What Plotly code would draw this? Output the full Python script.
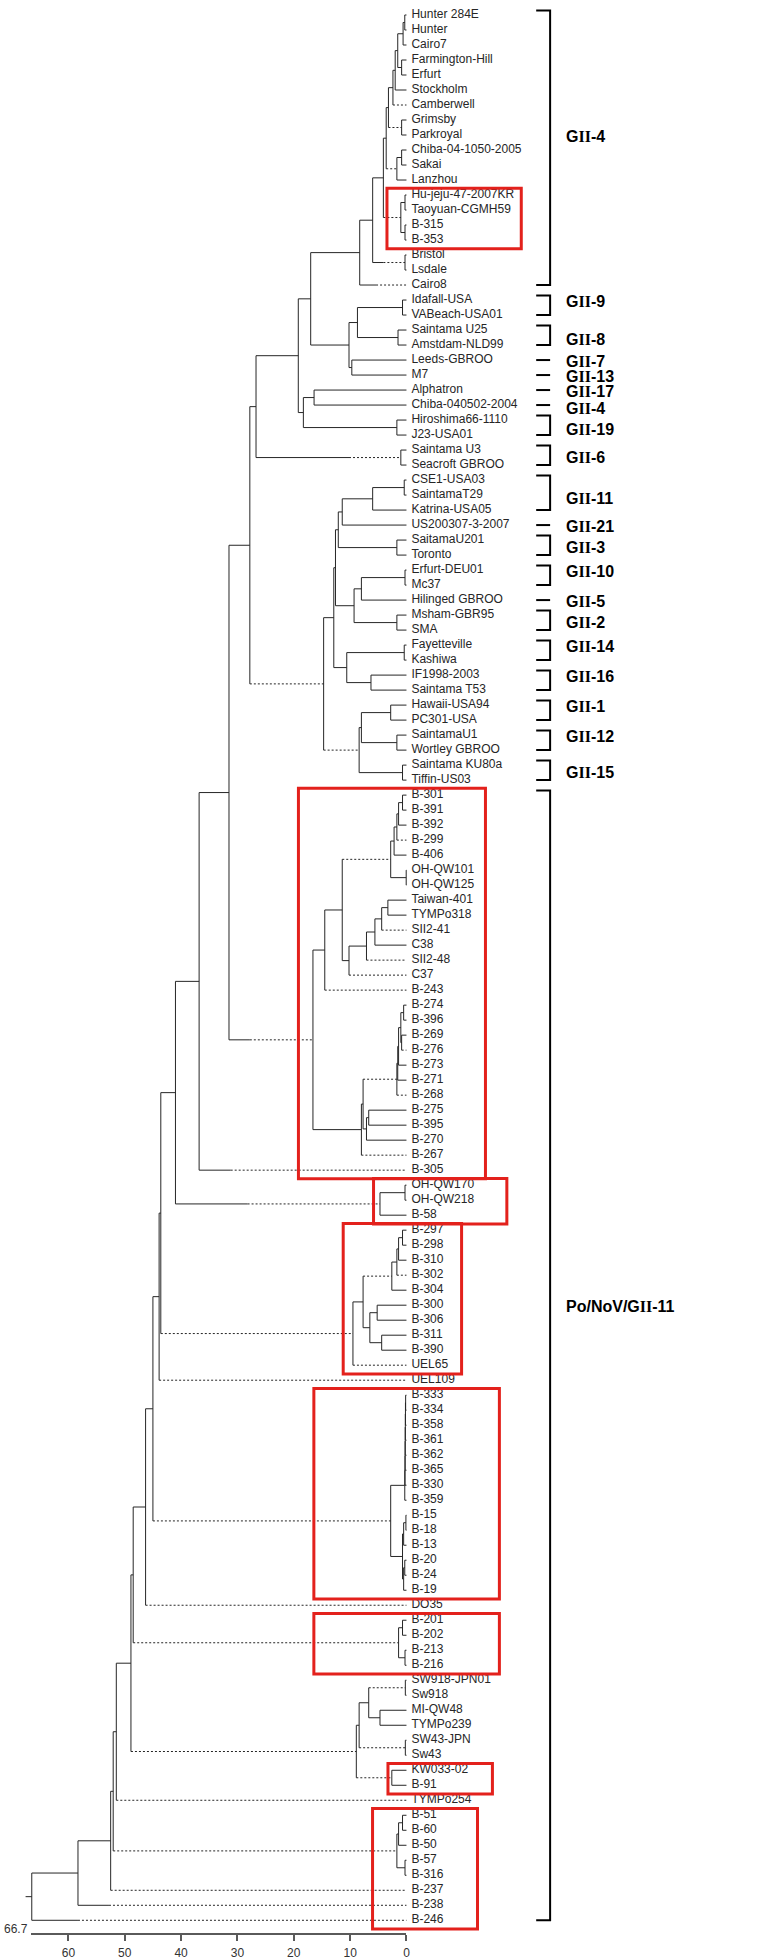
import plotly.graph_objects as go

# ---------------- DATA ----------------
leaf_names = [
    "Hunter 284E", "Hunter", "Cairo7", "Farmington-Hill", "Erfurt", "Stockholm", "Camberwell",
    "Grimsby", "Parkroyal", "Chiba-04-1050-2005", "Sakai", "Lanzhou", "Hu-jeju-47-2007KR",
    "Taoyuan-CGMH59", "B-315", "B-353", "Bristol", "Lsdale", "Cairo8", "Idafall-USA",
    "VABeach-USA01", "Saintama U25", "Amstdam-NLD99", "Leeds-GBROO", "M7", "Alphatron",
    "Chiba-040502-2004", "Hiroshima66-1110", "J23-USA01", "Saintama U3", "Seacroft GBROO",
    "CSE1-USA03", "SaintamaT29", "Katrina-USA05", "US200307-3-2007", "SaitamaU201", "Toronto",
    "Erfurt-DEU01", "Mc37", "Hilinged GBROO", "Msham-GBR95", "SMA", "Fayetteville", "Kashiwa",
    "IF1998-2003", "Saintama T53", "Hawaii-USA94", "PC301-USA", "SaintamaU1", "Wortley GBROO",
    "Saintama KU80a", "Tiffin-US03", "B-301", "B-391", "B-392", "B-299", "B-406", "OH-QW101",
    "OH-QW125", "Taiwan-401", "TYMPo318", "SII2-41", "C38", "SII2-48", "C37", "B-243", "B-274",
    "B-396", "B-269", "B-276", "B-273", "B-271", "B-268", "B-275", "B-395", "B-270", "B-267",
    "B-305", "OH-QW170", "OH-QW218", "B-58", "B-297", "B-298", "B-310", "B-302", "B-304",
    "B-300", "B-306", "B-311", "B-390", "UEL65", "UEL109", "B-333", "B-334", "B-358", "B-361",
    "B-362", "B-365", "B-330", "B-359", "B-15", "B-18", "B-13", "B-20", "B-24", "B-19", "DO35",
    "B-201", "B-202", "B-213", "B-216", "SW918-JPN01", "Sw918", "MI-QW48", "TYMPo239",
    "SW43-JPN", "Sw43", "KW033-02", "B-91", "TYMPo254", "B-51", "B-60", "B-50", "B-57", "B-316",
    "B-237", "B-238", "B-246",
]

# merges m1..m127 (left child, right child, height in distance units)
merge_left = [
    "Hunter 284E", "m1", "Farmington-Hill", "m2", "m4", "m5", "Grimsby", "m6", "Chiba-04-1050-2005", "m9",
    "m8", "Hu-jeju-47-2007KR", "B-315", "m12", "m11", "Bristol", "m15", "m17", "Idafall-USA", "Saintama U25",
    "m19", "Leeds-GBROO", "m21", "m18", "Alphatron", "Hiroshima66-1110", "m25", "m24", "Saintama U3", "m28",
    "CSE1-USA03", "m31", "m32", "SaitamaU201", "m33", "Erfurt-DEU01", "m36", "Msham-GBR95", "m37", "m35",
    "Fayetteville", "IF1998-2003", "m41", "m40", "Hawaii-USA94", "SaintamaU1", "m45", "Saintama KU80a", "m47", "m44",
    "m30", "B-301", "m52", "m53", "m54", "OH-QW101", "m55", "Taiwan-401", "m58", "m59",
    "m60", "m61", "m57", "m63", "B-274", "B-269", "m65", "m67", "m68", "m69",
    "B-275", "m71", "m70", "m73", "m64", "m51", "m76", "OH-QW170", "m78", "m77",
    "B-297", "m81", "m82", "m83", "B-300", "B-311", "m85", "m84", "m88", "m80",
    "m90", "B-333", "m92", "m93", "m94", "m95", "m96", "m97", "B-15", "m99",
    "B-20", "m101", "m100", "m98", "m91", "m105", "B-201", "B-213", "m107", "m106",
    "SW918-JPN01", "MI-QW48", "m111", "SW43-JPN", "m113", "KW033-02", "m115", "m110", "m118", "B-51",
    "m120", "B-57", "m121", "m119", "m124", "m125", "m126",
]
merge_right = [
    "Hunter", "Cairo7", "Erfurt", "m3", "Stockholm", "Camberwell", "Parkroyal", "m7", "Sakai", "Lanzhou",
    "m10", "Taoyuan-CGMH59", "B-353", "m13", "m14", "Lsdale", "m16", "Cairo8", "VABeach-USA01", "Amstdam-NLD99",
    "m20", "M7", "m22", "m23", "Chiba-040502-2004", "J23-USA01", "m26", "m27", "Seacroft GBROO", "m29",
    "SaintamaT29", "Katrina-USA05", "US200307-3-2007", "Toronto", "m34", "Mc37", "Hilinged GBROO", "SMA", "m38", "m39",
    "Kashiwa", "Saintama T53", "m42", "m43", "PC301-USA", "Wortley GBROO", "m46", "Tiffin-US03", "m48", "m49",
    "m50", "B-391", "B-392", "B-299", "B-406", "OH-QW125", "m56", "TYMPo318", "SII2-41", "C38",
    "SII2-48", "C37", "m62", "B-243", "B-396", "B-276", "m66", "B-273", "B-271", "B-268",
    "B-395", "B-270", "m72", "B-267", "m74", "m75", "B-305", "OH-QW218", "B-58", "m79",
    "B-298", "B-310", "B-302", "B-304", "B-306", "B-390", "m86", "m87", "UEL65", "m89",
    "UEL109", "B-334", "B-358", "B-361", "B-362", "B-365", "B-330", "B-359", "B-18", "B-13",
    "B-24", "B-19", "m102", "m103", "m104", "DO35", "B-202", "B-216", "m108", "m109",
    "Sw918", "TYMPo239", "m112", "Sw43", "m114", "B-91", "m116", "m117", "TYMPo254", "B-60",
    "B-50", "B-316", "m122", "m123", "B-237", "B-238", "B-246",
]
merge_height = [
    0.3, 0.6, 0.86, 1.55, 2.0, 2.4, 0.86, 3.2, 0.86, 1.7,
    3.6, 0.26, 0.26, 1.0, 4.1, 0.26, 6.0, 8.3, 0.7, 1.5,
    8.7, 9.7, 10.2, 17.0, 16.4, 1.7, 18.3, 19.2, 1.0, 26.7,
    0.4, 6.0, 11.4, 1.7, 12.1, 0.26, 8.0, 1.7, 9.3, 12.6,
    0.4, 6.3, 10.6, 12.9, 2.8, 1.7, 8.0, 0.7, 8.4, 14.7,
    27.8, 0.7, 1.4, 1.7, 2.2, 0.05, 2.8, 3.3, 4.4, 5.6,
    7.1, 10.2, 11.4, 14.5, 0.5, 0.86, 1.0, 1.4, 1.55, 1.7,
    6.7, 7.1, 7.7, 8.0, 16.6, 31.5, 36.8, 0.26, 4.7, 41.0,
    0.7, 1.4, 1.7, 2.6, 5.2, 4.4, 6.5, 7.7, 9.5, 43.6,
    43.9, 0.15, 0.18, 0.2, 0.22, 0.24, 0.26, 0.3, 0.1, 0.5,
    0.3, 0.5, 0.7, 2.8, 45.0, 46.3, 0.7, 0.26, 1.4, 48.5,
    0.2, 4.7, 6.7, 0.2, 8.4, 2.6, 8.9, 48.9, 51.5, 0.7,
    1.4, 0.26, 1.7, 52.05, 52.5, 58.3, 66.5,
]

# branches drawn dashed, and the distance where the dashing begins (None = whole branch)
dashed_branch = [
    "Camberwell", "m7", "m10", "m14", "m16", "Cairo8", "m29", "m50", "m49", "B-299",
    "m57", "SII2-41", "SII2-48", "C37", "B-243", "B-276", "B-268", "m70", "B-267", "m75",
    "B-305", "m79", "B-302", "m84", "m89", "UEL65", "UEL109", "m104", "DO35", "m109",
    "m111", "m114", "m116", "m117", "TYMPo254", "m123", "B-237", "B-238", "B-246",
]
dash_start = [
    None, None, None, None, 4.1, 5.4, 10.2, None, None, None,
    None, None, None, None, None, None, None, None, None, 27.8,
    31.2, 28.2, None, None, None, None, None, None, None, None,
    None, None, None, None, None, None, None, 52.8, 58.3,
]

# genotype brackets on the right
group_label = ["GII-4", "GII-9", "GII-8", "GII-7", "GII-13", "GII-17", "GII-4", "GII-19", "GII-6",
               "GII-11", "GII-21", "GII-3", "GII-10", "GII-5", "GII-2", "GII-14", "GII-16", "GII-1",
               "GII-12", "GII-15", "Po/NoV/GII-11"]
group_first = ["Hunter 284E", "Idafall-USA", "Saintama U25", "Leeds-GBROO", "M7", "Alphatron",
               "Chiba-040502-2004", "Hiroshima66-1110", "Saintama U3", "CSE1-USA03", "US200307-3-2007",
               "SaitamaU201", "Erfurt-DEU01", "Hilinged GBROO", "Msham-GBR95", "Fayetteville",
               "IF1998-2003", "Hawaii-USA94", "SaintamaU1", "Saintama KU80a", "B-301"]
group_last = ["Cairo8", "VABeach-USA01", "Amstdam-NLD99", "Leeds-GBROO", "M7", "Alphatron",
              "Chiba-040502-2004", "J23-USA01", "Seacroft GBROO", "Katrina-USA05", "US200307-3-2007",
              "Toronto", "Mc37", "Hilinged GBROO", "SMA", "Kashiwa", "Saintama T53", "PC301-USA",
              "Wortley GBROO", "Tiffin-US03", "B-246"]
group_label_row = [9.1, 20.1, 22.6, 24.1, 25.1, 26.1, 27.25, 28.6, 30.5, 33.25, 35.1, 36.5,
                   38.1, 40.1, 41.5, 43.1, 45.1, 47.1, 49.1, 51.5, 87.1]

# highlighted (red boxed) clusters
box_first = ["Hu-jeju-47-2007KR", "B-301", "OH-QW170", "B-297", "B-333", "B-201", "KW033-02", "B-51"]
box_last = ["B-353", "B-305", "B-58", "UEL65", "B-19", "B-216", "B-91", "B-246"]

scale_ticks = [60, 50, 40, 30, 20, 10, 0]
scale_max = 66.7

# ---------------- LAYOUT CONSTANTS ----------------
W, H = 768, 1960
X0_PX = 408.6          # pixel of distance 0
PX_PER_UNIT = 5.664    # pixels per distance unit
ROW0_PX = 15.0         # pixel of first leaf
ROW_PX = 15.01         # pixels per leaf row
box_x_px = [(389, 524), (300, 488), (375.5, 509.5), (345, 464), (315.5, 502), (315.5, 502), (390, 495),
            (374.5, 480)]
BRACKET_TICK_PX = 539
BRACKET_BAR_PX = 553
LABEL_PX = 567
AXIS_Y_PX = 1935

TREE_COLOR = "#262626"
RED = "#e3211c"
LEAF_FONT = "Liberation Sans, Arial, sans-serif"

x_range = [X0_PX / PX_PER_UNIT, (X0_PX - W) / PX_PER_UNIT]
y_range = [1 + (H - ROW0_PX) / ROW_PX, 1 - ROW0_PX / ROW_PX]


def px_to_x(px):
    return (X0_PX - px) / PX_PER_UNIT


# ---------------- TREE GEOMETRY ----------------
pos = {name: (0.0, i + 1) for i, name in enumerate(leaf_names)}
for k, (l, r, h) in enumerate(zip(merge_left, merge_right, merge_height)):
    pos[f"m{k + 1}"] = (h, (pos[l][1] + pos[r][1]) / 2)

dash_map = dict(zip(dashed_branch, dash_start))
solid_x, solid_y, dash_x, dash_y = [], [], [], []
for k, (l, r, h) in enumerate(zip(merge_left, merge_right, merge_height)):
    solid_x += [h, h, None]
    solid_y += [pos[l][1], pos[r][1], None]
    for c in (l, r):
        cx, cy = pos[c]
        if c in dash_map:
            ds = dash_map[c] if dash_map[c] is not None else h
            if ds < h:
                solid_x += [h, ds, None]
                solid_y += [cy, cy, None]
            dash_x += [ds, cx, None]
            dash_y += [cy, cy, None]
        else:
            solid_x += [h, cx, None]
            solid_y += [cy, cy, None]

root = f"m{len(merge_height)}"
root_h, root_y = pos[root]
solid_x += [root_h, root_h + 1.1, None]
solid_y += [root_y, root_y, None]

fig = go.Figure()
fig.add_trace(go.Scatter(x=solid_x, y=solid_y, mode="lines",
                         line=dict(color=TREE_COLOR, width=1), hoverinfo="skip", showlegend=False))
fig.add_trace(go.Scatter(x=dash_x, y=dash_y, mode="lines",
                         line=dict(color=TREE_COLOR, width=1, dash="2px,2px"), hoverinfo="skip",
                         showlegend=False))

# leaf labels
label_x = px_to_x(X0_PX + 5)
fig.add_trace(go.Scatter(
    x=[label_x] * len(leaf_names), y=[pos[n][1] for n in leaf_names], mode="text",
    text=leaf_names, textposition="middle right", cliponaxis=False,
    textfont=dict(family=LEAF_FONT, size=12, color="#262626"),
    hoverinfo="skip", showlegend=False))

# invisible trace so the distance-scale axis has a subplot
fig.add_trace(go.Scatter(x=scale_ticks, y=[None] * len(scale_ticks), xaxis="x2", yaxis="y",
                         mode="markers", marker=dict(opacity=0), hoverinfo="skip", showlegend=False))

shapes = []
annotations = []
# brackets
for lab, f, l, lr in zip(group_label, group_first, group_last, group_label_row):
    y1, y2 = pos[f][1], pos[l][1]
    xt, xb = px_to_x(BRACKET_TICK_PX), px_to_x(BRACKET_BAR_PX)
    if f == l:
        shapes.append(dict(type="line", xref="x", yref="y", x0=xt, x1=xb,
                           y0=y1, y1=y1, line=dict(color="black", width=2)))
    else:
        yt, yb = y1 - 0.3, y2
        shapes.append(dict(type="path", xref="x", yref="y",
                           path=f"M {xt} {yt} L {xb} {yt} L {xb} {yb} L {xt} {yb}",
                           line=dict(color="black", width=2)))
    txt = lab.replace("II", "<span style=\"font-family:Liberation Serif\">II</span>")
    annotations.append(dict(xref="x", yref="y", x=px_to_x(LABEL_PX), y=lr, text=txt,
                            xanchor="left", yanchor="middle", align="left", showarrow=False,
                            font=dict(family="Liberation Sans, Arial, sans-serif",
                                      size=16, color="black", weight="bold")))

# red boxes
for (bx0, bx1), f, l in zip(box_x_px, box_first, box_last):
    shapes.append(dict(type="rect", xref="x", yref="y", x0=px_to_x(bx0), x1=px_to_x(bx1),
                       y0=pos[f][1] - 0.45, y1=pos[l][1] + 0.58,
                       line=dict(color=RED, width=3), fillcolor="rgba(0,0,0,0)"))

# scale axis label at its left end
annotations.append(dict(xref="x2", yref="paper", x=scale_max, y=1 - (AXIS_Y_PX - 5) / H, text=f"{scale_max}",
                        xanchor="right", yanchor="middle", align="right", xshift=-1, showarrow=False,
                        font=dict(family=LEAF_FONT, size=12, color="#333333")))

fig.update_layout(
    width=W, height=H, margin=dict(l=0, r=0, t=0, b=0),
    paper_bgcolor="white", plot_bgcolor="rgba(0,0,0,0)",
    xaxis=dict(range=x_range, visible=False, domain=[0, 1]),
    yaxis=dict(range=y_range, visible=False, domain=[0, 1]),
    xaxis2=dict(range=[scale_max, 0], domain=[(X0_PX - scale_max * PX_PER_UNIT) / W, X0_PX / W],
                anchor="free", position=1 - AXIS_Y_PX / H,
                showline=True, linecolor="#5a5a5a", linewidth=2, ticks="outside", ticklen=6,
                tickwidth=1.5, tickcolor="#5a5a5a", tickvals=scale_ticks, showgrid=False, zeroline=False,
                ticklabelstandoff=2,
                tickfont=dict(family=LEAF_FONT, size=12, color="#333333")),
    shapes=shapes, annotations=annotations,
)

post_js = "document.body.style.margin = '0';"
fig.write_html("out.html", post_script=post_js, config={"displayModeBar": False})
